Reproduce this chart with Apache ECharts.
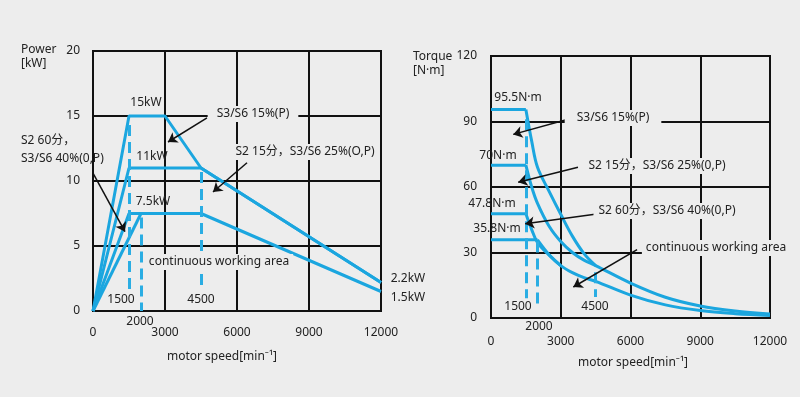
<!DOCTYPE html>
<html>
<head>
<meta charset="utf-8">
<script src="https://cdn.jsdelivr.net/npm/echarts@6/dist/echarts.min.js"></script>
<style>
html,body{margin:0;padding:0;background:#ededed;}
#main{width:800px;height:397px;}
</style>
</head>
<body>
<div id="main"></div>
<script>
// 功率曲线  转速[min-1] / 功率[kW]
var speedS3_15 = [0, 1500, 3000, 4500, 12000];
var powerS3_15 = [0, 15, 15, 11, 2.2];
var speedS2_15 = [0, 1500, 4500, 12000];
var powerS2_15 = [0, 11, 11, 2.2];
var speedS2_60 = [0, 1500, 4500, 12000];
var powerS2_60 = [0, 7.5, 7.5, 1.5];
var speedCont = [0, 2000];
var powerCont = [0, 7.5];

// 转矩曲线  转速[min-1] / 转矩[N·m]
var tSpeedS3_15 = [0, 1500, 1750, 2000, 2500, 3000, 3500, 4000, 4500];
var torqueS3_15 = [95.5, 95.5, 81, 69, 58, 47.5, 37.5, 29.5, 24];
var tSpeedS2_15 = [0, 1500, 1750, 2000, 2500, 3000, 3500, 4000, 4500, 6000, 7500, 9000, 10500, 12000];
var torqueS2_15 = [70, 70, 60, 52.5, 42, 35, 30, 26.5, 24, 16, 9.5, 5.5, 3.2, 1.8];
var tSpeedS2_60 = [0, 1500, 1750, 2000, 2500, 3000];
var torqueS2_60 = [47.8, 47.8, 40.5, 34.5, 28.8, 24];
var tSpeedCont = [0, 2000, 2500, 3000, 3500, 4000, 4500, 6000, 7500, 9000, 10500, 12000];
var torqueCont = [35.8, 35.8, 29, 24, 20.8, 18.5, 16.8, 10.5, 6, 3.4, 2, 1.2];

var blue = '#1ba6df';
var dashBlue = '#2aade3';
var bg = '#ededed';
var ink = '#222';
var font = '"Noto Sans", "Noto Sans CJK SC", sans-serif';

function pairs(xs, ys) {
	return xs.map(function(x, i) { return [x, ys[i]]; });
}
function seg(a, b) {
	return [{coord: a}, {coord: b}];
}

var dashStyle = {
	silent: true, symbol: ['none', 'none'], label: {show: false},
	emphasis: {disabled: true},
	lineStyle: {color: dashBlue, width: 3, type: [11, 6]}
};
var arrowStyle = {
	silent: true, symbol: ['none', 'arrow'], symbolSize: 9, label: {show: false},
	emphasis: {disabled: true},
	lineStyle: {color: '#111', width: 1.5, type: 'solid'}
};

function lineSeries(xi, data, smooth, extra) {
	var s = {
		type: 'line', xAxisIndex: xi, yAxisIndex: xi, data: data,
		showSymbol: false, smooth: smooth, silent: true, z: 3,
		lineStyle: {color: blue, width: 3}, itemStyle: {color: blue}
	};
	if (extra) { for (var k in extra) s[k] = extra[k]; }
	return s;
}

// 转矩曲线：水平段直线，下降段平滑
function torqueSeries(xs, ys) {
	var d = pairs(xs, ys);
	return [lineSeries(1, d.slice(0, 2), false), lineSeries(1, d.slice(1), 0.35)];
}

function txt(text, x, y, opt) {
	opt = opt || {};
	var st = {
		text: text, fill: ink, font: (opt.size || 12) + 'px ' + font,
		align: opt.align || 'center', verticalAlign: 'middle'
	};
	if (opt.mask) { st.backgroundColor = bg; st.padding = opt.mask; }
	return {type: 'text', x: x, y: y, z: 100, silent: true, style: st};
}

var axisLineStyle = {lineStyle: {color: '#111', width: 2}};

function xAxis(gi, margin) {
	return {
		type: 'value', gridIndex: gi, min: 0, max: 12000, interval: 3000,
		axisLine: axisLineStyle, axisTick: {show: false},
		axisLabel: {color: ink, fontSize: 12, fontFamily: font, margin: margin,
			formatter: function(v) { return String(v); }},
		splitLine: {show: true, lineStyle: {color: '#111', width: 2}}
	};
}
function yAxis(gi, max, interval, margin) {
	return {
		type: 'value', gridIndex: gi, min: 0, max: max, interval: interval,
		axisLine: {show: true, lineStyle: {color: '#111', width: 2}}, axisTick: {show: false},
		axisLabel: {color: ink, fontSize: 12, fontFamily: font, margin: margin},
		splitLine: {show: true, lineStyle: {color: '#111', width: 2}}
	};
}

var series = [
	lineSeries(0, pairs(speedS3_15, powerS3_15), false, {
		markLine: Object.assign({}, dashStyle, {data: [
			seg([1500, 14.3], [1500, 1.6]),
			seg([2000, 7.2], [2000, 0]),
			seg([4500, 10.7], [4500, 1.6])
		]})
	}),
	lineSeries(0, pairs(speedS2_15, powerS2_15), false, {
		markLine: Object.assign({}, arrowStyle, {data: [
			seg([4750, 14.85], [3125, 13.0]),
			seg([6417, 11.4], [5000, 9.15]),
			seg([0, 10.6], [1333, 6.1])
		]})
	}),
	lineSeries(0, pairs(speedS2_60, powerS2_60), false),
	lineSeries(0, pairs(speedCont, powerCont), false)
];
series = series.concat(
	torqueSeries(tSpeedS3_15, torqueS3_15),
	torqueSeries(tSpeedS2_15, torqueS2_15),
	torqueSeries(tSpeedS2_60, torqueS2_60),
	torqueSeries(tSpeedCont, torqueCont)
);
series.push({
	type: 'line', xAxisIndex: 1, yAxisIndex: 1, data: [], silent: true,
	markLine: Object.assign({}, dashStyle, {data: [
		seg([1500, 91], [1500, 9]),
		seg([2000, 35], [2000, 4.4]),
		seg([4500, 21], [4500, 9.6])
	]})
});
series.push({
	type: 'line', xAxisIndex: 1, yAxisIndex: 1, data: [], silent: true,
	markLine: Object.assign({}, arrowStyle, {data: [
		seg([3313, 91.0], [956, 84.1]),
		seg([3741, 69.0], [1170, 62.2]),
		seg([4470, 47.5], [1470, 43.2]),
		seg([6283, 31.3], [3540, 14.2])
	]})
});

var myChart = echarts.init(document.getElementById('main'));
var option = {
	backgroundColor: bg,
	animation: false,
	grid: [
		{left: 93, top: 51, width: 288, height: 260, show: true, borderColor: '#111', borderWidth: 2},
		{left: 491, top: 56, width: 279, height: 262, show: true, borderColor: '#111', borderWidth: 2}
	],
	xAxis: [xAxis(0, 16), xAxis(1, 18)],
	yAxis: [yAxis(0, 20, 5, 13), yAxis(1, 120, 30, 14)],
	series: series,
	graphic: [
		txt('Power', 21, 50, {align: 'left'}),
		txt('[kW]', 21, 64, {align: 'left'}),
		txt('15kW', 146, 103),
		txt('11kW', 152, 157),
		txt('7.5kW', 153, 202),
		txt('S3/S6 15%(P)', 253, 114, {mask: [2, 9]}),
		txt('S2 15分，S3/S6 25%(O,P)', 305, 152, {mask: [2, 5]}),
		txt('S2 60分，', 21, 141, {align: 'left'}),
		txt('S3/S6 40%(0,P)', 21, 159, {align: 'left'}),
		txt('continuous working area', 219, 262, {mask: [2, 4]}),
		txt('2.2kW', 408, 279),
		txt('1.5kW', 408, 298),
		txt('1500', 121, 300),
		txt('2000', 140, 322),
		txt('4500', 201, 300),
		txt('motor speed[min⁻¹]', 222, 357),
		txt('Torque', 413, 57, {align: 'left'}),
		txt('[N·m]', 413, 71, {align: 'left'}),
		txt('95.5N·m', 518, 98),
		txt('70N·m', 498, 156),
		txt('47.8N·m', 492, 204),
		txt('35.8N·m', 497, 229),
		txt('S3/S6 15%(P)', 613, 118, {mask: [2, 12]}),
		txt('S2 15分，S3/S6 25%(0,P)', 657, 166, {mask: [2, 5]}),
		txt('S2 60分，S3/S6 40%(0,P)', 667, 211, {mask: [2, 5]}),
		txt('continuous working area', 716, 248, {mask: [2, 4]}),
		txt('1500', 518, 307),
		txt('4500', 595, 307),
		txt('2000', 539, 327),
		txt('motor speed[min⁻¹]', 633, 363)
	]
};
myChart.setOption(option);
</script>
</body>
</html>
